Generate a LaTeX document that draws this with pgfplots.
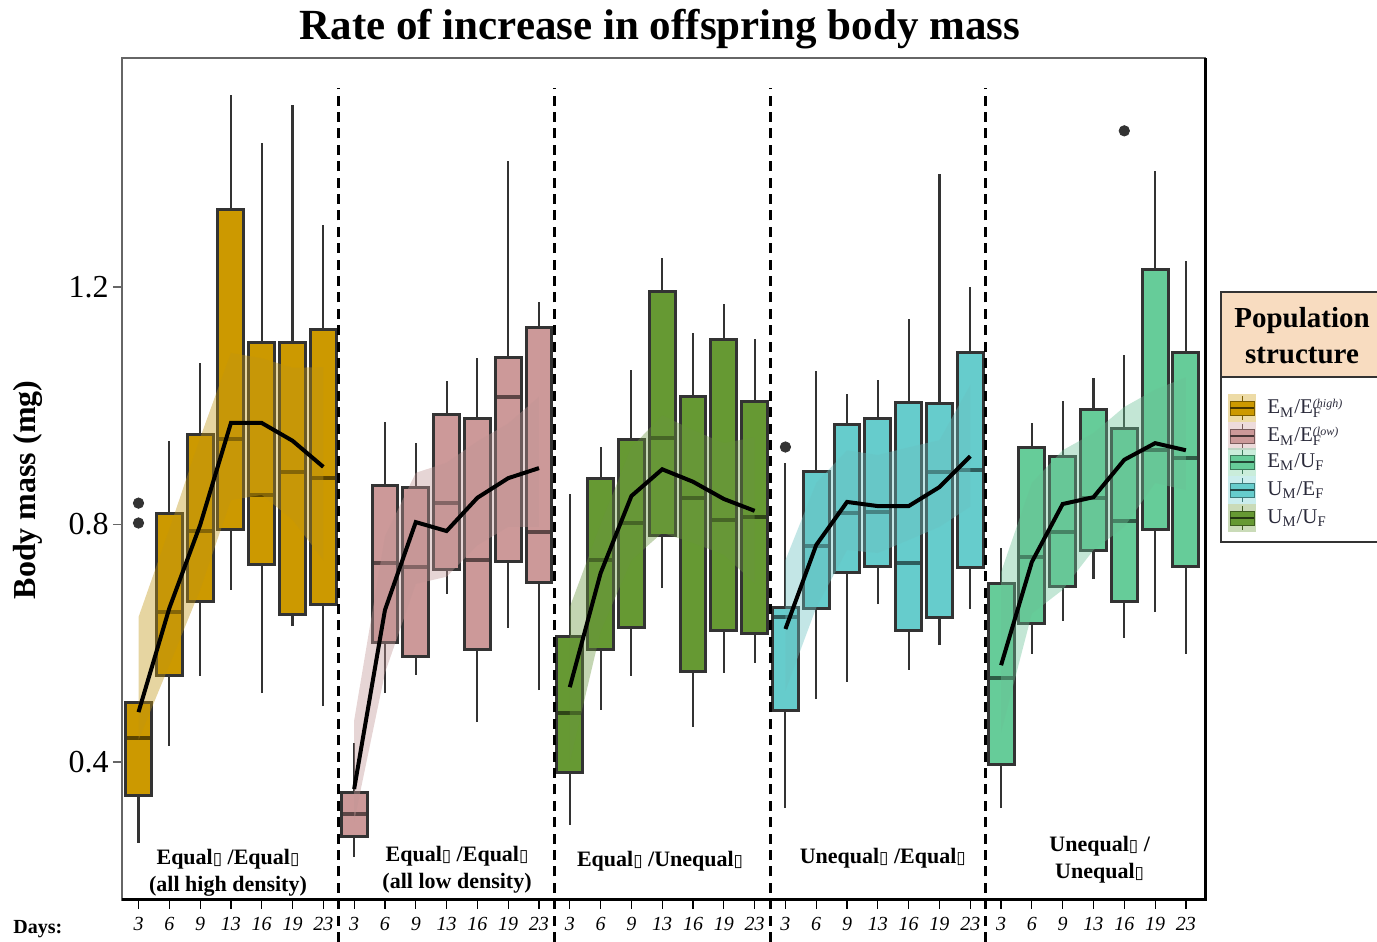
\documentclass[border=0pt]{standalone}
\usepackage{pgfplots}
\pgfplotsset{compat=1.18}
\usepackage{fontspec}
\setmainfont{Liberation Serif}
\newfontfamily\dejavu{DejaVu Sans}
\newcommand{\tofu}{{\dejavu\fontsize{8.5}{8.5}\selectfont\char"25AF}}
\newcommand{\sbsp}[2]{\rlap{\textsubscript{#1}}{\fontsize{6}{6}\selectfont\raisebox{3.4pt}{\itshape #2}}}
\definecolor{cgold}{HTML}{CC9900}
\definecolor{cpink}{HTML}{CC9999}
\definecolor{cgreen}{HTML}{669933}
\definecolor{ccyan}{HTML}{66CCCC}
\definecolor{cmint}{HTML}{66CC99}
\definecolor{boxline}{HTML}{333333}
\definecolor{peach}{HTML}{F8DCC0}
\definecolor{legtext}{HTML}{2A2A3A}
% #1 position, #2 lower whisker, #3 lower quartile, #4 median, #5 upper quartile, #6 upper whisker, #7 colour
\newcommand{\bx}[7]{%
  \addplot[draw=none, fill=#7] table[row sep=\\, x expr=#1+\thisrow{dx}, y=y] {dx y\\ -0.42 #3\\ 0.42 #3\\ 0.42 #5\\ -0.42 #5\\} -- cycle;
  \addplot[boxline, line width=1.05pt] coordinates {(#1,#5) (#1,#6)};
  \addplot[boxline, line width=1.05pt] coordinates {(#1,#2) (#1,#3)};
  \addplot[#7!45!black, line width=2pt] table[row sep=\\, x expr=#1+\thisrow{dx}, y=y] {dx y\\ -0.42 #4\\ 0.42 #4\\};
  \addplot[boxline, line width=1.5pt] table[row sep=\\, x expr=#1+\thisrow{dx}, y=y] {dx y\\ -0.42 #3\\ 0.42 #3\\ 0.42 #5\\ -0.42 #5\\} -- cycle;
}
\newcommand{\legrow}[3]{%
  \fill[#2, opacity=0.35] (11.5,#1-7) rectangle (25.5,#1+7);
  \draw[#2!60!black, line width=0.4pt] (18.5,#1+3.5) -- (18.5,#1+6.2) (18.5,#1-3.5) -- (18.5,#1-6.2);
  \draw[fill=#2, draw=#2!60!black, line width=0.4pt] (12.5,#1-3.5) rectangle (24.5,#1+3.5);
  \draw[#2!35!black, line width=1.4pt] (12.5,#1) -- (24.5,#1);
  \node[anchor=west, text=legtext, font=\fontsize{10.5}{12}\selectfont, inner sep=0pt] at (31,#1) {#3};}
\begin{document}
\begin{tikzpicture}
\begin{axis}[
  scale only axis, width=541.5pt, height=421pt,
  xmin=-0.536, xmax=34.62, ymin=0.1676, ymax=1.5857,
  clip=false,
  axis line style={draw=black!60, line width=0.6pt},
  xtick={0,...,34},
  xticklabels={3,6,9,13,16,19,23,3,6,9,13,16,19,23,3,6,9,13,16,19,23,3,6,9,13,16,19,23,3,6,9,13,16,19,23},
  ytick={0.4,0.8,1.2}, yticklabels={0.4,0.8,1.2},
  tick align=outside, major tick length=4.5pt,
  xtick pos=bottom, ytick pos=left,
  x tick style={black, line width=0.6pt},
  y tick style={black!60, line width=0.6pt},
  xticklabel style={font=\fontsize{10}{12}\selectfont\itshape, inner sep=1pt, yshift=-3pt},
  yticklabel style={font=\fontsize{16}{18}\selectfont, inner sep=2pt},
]
\coordinate (SW) at (rel axis cs:0,0);
\coordinate (NE) at (rel axis cs:1,1);
\coordinate (SE) at (rel axis cs:1,0);
% ---- group 1 (gold)
\bx{0}{0.264}{0.343}{0.440}{0.501}{0.503}{cgold}
\bx{1}{0.427}{0.545}{0.653}{0.819}{0.941}{cgold}
\bx{2}{0.545}{0.670}{0.789}{0.952}{1.072}{cgold}
\bx{3}{0.690}{0.792}{0.944}{1.330}{1.523}{cgold}
\bx{4}{0.516}{0.733}{0.850}{1.107}{1.443}{cgold}
\bx{5}{0.629}{0.649}{0.888}{1.107}{1.507}{cgold}
\bx{6}{0.494}{0.666}{0.878}{1.128}{1.304}{cgold}
\addplot[draw=none, fill=cgold!85!gray, fill opacity=0.4] coordinates {(0,0.644) (1,0.792) (2,0.946) (3,1.089) (4,1.080) (5,1.064) (6,1.065) (6,0.740) (5,0.808) (4,0.850) (3,0.841) (2,0.690) (1,0.563) (0,0.437)} -- cycle;
\addplot[only marks, mark=*, mark size=2.6pt, boxline] coordinates {(0,0.836) (0,0.8025)};
\addplot[black, line width=2pt] coordinates {(0,0.484) (1,0.659) (2,0.799) (3,0.971) (4,0.971) (5,0.941) (6,0.897)};
% ---- group 2 (pink)
\bx{7}{0.240}{0.275}{0.312}{0.348}{0.432}{cpink}
\bx{8}{0.516}{0.602}{0.735}{0.865}{0.973}{cpink}
\bx{9}{0.547}{0.577}{0.728}{0.863}{0.937}{cpink}
\bx{10}{0.683}{0.725}{0.836}{0.986}{1.042}{cpink}
\bx{11}{0.467}{0.589}{0.740}{0.978}{1.080}{cpink}
\bx{12}{0.626}{0.737}{1.015}{1.082}{1.412}{cpink}
\bx{13}{0.521}{0.703}{0.787}{1.131}{1.175}{cpink}
\addplot[draw=none, fill=cpink!85!gray, fill opacity=0.4] coordinates {(7,0.47) (8,0.78) (9,0.887) (10,0.904) (11,0.94) (12,0.97) (13,1.015) (13,0.796) (12,0.796) (11,0.765) (10,0.712) (9,0.70) (8,0.55) (7,0.30)} -- cycle;
\addplot[black, line width=2pt] coordinates {(7,0.3545) (8,0.656) (9,0.804) (10,0.789) (11,0.845) (12,0.878) (13,0.895)};
% ---- group 3 (green)
\bx{14}{0.294}{0.3815}{0.4825}{0.612}{0.851}{cgreen}
\bx{15}{0.488}{0.589}{0.740}{0.877}{0.931}{cgreen}
\bx{16}{0.545}{0.627}{0.8025}{0.944}{1.060}{cgreen}
\bx{17}{0.693}{0.781}{0.946}{1.192}{1.249}{cgreen}
\bx{18}{0.459}{0.553}{0.845}{1.015}{1.1225}{cgreen}
\bx{19}{0.550}{0.622}{0.808}{1.111}{1.171}{cgreen}
\bx{20}{0.567}{0.617}{0.813}{1.008}{1.112}{cgreen}
\addplot[draw=none, fill=cgreen!85!gray, fill opacity=0.4] coordinates {(14,0.661) (15,0.80) (16,0.93) (17,0.984) (18,0.959) (19,0.937) (20,0.947) (20,0.701) (19,0.749) (18,0.769) (17,0.786) (16,0.74) (15,0.62) (14,0.40)} -- cycle;
\addplot[black, line width=2pt] coordinates {(14,0.526) (15,0.718) (16,0.848) (17,0.893) (18,0.872) (19,0.843) (20,0.823)};
% ---- group 4 (cyan)
\bx{21}{0.3225}{0.486}{0.644}{0.661}{0.904}{ccyan}
\bx{22}{0.506}{0.659}{0.764}{0.890}{1.0585}{ccyan}
\bx{23}{0.535}{0.720}{0.819}{0.968}{1.020}{ccyan}
\bx{24}{0.666}{0.730}{0.821}{0.978}{1.043}{ccyan}
\bx{25}{0.555}{0.622}{0.735}{1.005}{1.146}{ccyan}
\bx{26}{0.597}{0.644}{0.888}{1.003}{1.390}{ccyan}
\bx{27}{0.658}{0.728}{0.892}{1.089}{1.200}{ccyan}
\addplot[draw=none, fill=ccyan!85!gray, fill opacity=0.4] coordinates {(21,0.74) (22,0.87) (23,0.925) (24,0.917) (25,0.93) (26,0.942) (27,1.035) (27,0.83) (26,0.796) (25,0.774) (24,0.752) (23,0.757) (22,0.66) (21,0.52)} -- cycle;
\addplot[only marks, mark=*, mark size=2.6pt, boxline] coordinates {(21,0.9305)};
\addplot[black, line width=2pt] coordinates {(21,0.624) (22,0.7655) (23,0.838) (24,0.831) (25,0.831) (26,0.863) (27,0.915)};
% ---- group 5 (mint)
\bx{28}{0.3225}{0.3966}{0.5415}{0.700}{0.760}{cmint}
\bx{29}{0.582}{0.634}{0.745}{0.929}{0.971}{cmint}
\bx{30}{0.6375}{0.695}{0.787}{0.914}{1.008}{cmint}
\bx{31}{0.708}{0.757}{0.845}{0.993}{1.047}{cmint}
\bx{32}{0.609}{0.6695}{0.806}{0.9625}{1.0855}{cmint}
\bx{33}{0.6526}{0.7924}{0.9255}{1.229}{1.395}{cmint}
\bx{34}{0.582}{0.730}{0.912}{1.0905}{1.244}{cmint}
\addplot[draw=none, fill=cmint!85!gray, fill opacity=0.4] coordinates {(28,0.72) (29,0.87) (30,0.925) (31,0.954) (32,0.998) (33,1.027) (34,1.048) (34,0.858) (33,0.870) (32,0.796) (31,0.757) (30,0.69) (29,0.65) (28,0.45)} -- cycle;
\addplot[only marks, mark=*, mark size=2.6pt, boxline] coordinates {(32,1.463)};
\addplot[black, line width=2pt] coordinates {(28,0.563) (29,0.737) (30,0.8345) (31,0.846) (32,0.909) (33,0.937) (34,0.925)};
% ---- separators
\addplot[black, line width=1.5pt, dash pattern=on 5pt off 3.2pt] coordinates {(6.5,0.097) (6.5,1.535)};
\addplot[black, line width=1.5pt, dash pattern=on 5pt off 3.2pt] coordinates {(13.5,0.097) (13.5,1.535)};
\addplot[black, line width=1.5pt, dash pattern=on 5pt off 3.2pt] coordinates {(20.5,0.097) (20.5,1.535)};
\addplot[black, line width=1.5pt, dash pattern=on 5pt off 3.2pt] coordinates {(27.5,0.097) (27.5,1.535)};
% ---- frame (thick bottom/right)
\draw[black, line width=1.5pt] (rel axis cs:0,0) -- (rel axis cs:1,0) -- (rel axis cs:1,1);
% ---- group labels
\begin{scope}[every node/.style={align=center, font=\bfseries\fontsize{11}{13.5}\selectfont, inner sep=0pt}]
\node at (axis cs:2.905,0.213) {Equal\tofu\ /Equal\tofu\\(all high density)};
\node at (axis cs:10.34,0.218) {Equal\tofu\ /Equal\tofu\\(all low density)};
\node at (axis cs:16.93,0.233) {Equal\tofu\ /Unequal\tofu};
\node at (axis cs:24.16,0.238) {Unequal\tofu\ /Equal\tofu};
\node at (axis cs:31.2,0.235) {Unequal\tofu\ /\\Unequal\tofu};
\end{scope}
% ---- title, y label, days
\node[anchor=base, font=\bfseries\fontsize{21.5}{24}\selectfont, inner sep=0pt] at ([yshift=9pt]rel axis cs:0.4968,1) {Rate of increase in offspring body mass};
\node[rotate=90, font=\bfseries\fontsize{16}{18}\selectfont, inner sep=0pt] at ([xshift=-47pt]rel axis cs:0,0.487) {Body mass (mg)};
\node[anchor=base west, font=\bfseries\fontsize{10}{12}\selectfont, inner sep=0pt] at ([xshift=-54.5pt,yshift=-17pt]rel axis cs:0,0) {Days:};
\end{axis}
% ---- legend
\begin{scope}[shift={(SE)}, x=1pt, y=1pt]
\fill[peach] (8,261.5) rectangle (89,304);
\draw[boxline, line width=0.8pt] (8,179) rectangle (89,304);
\draw[boxline, line width=0.8pt] (8,261.5) -- (89,261.5);
\node[align=center, font=\bfseries\fontsize{14.5}{18}\selectfont, inner sep=0pt] at (48.5,282) {Population\\structure};
\legrow{246}{cgold}{E\textsubscript{M}/E\sbsp{F}{(high)}}
\legrow{232}{cpink}{E\textsubscript{M}/E\sbsp{F}{(low)}}
\legrow{219}{cmint}{E\textsubscript{M}/U\textsubscript{F}}
\legrow{205}{ccyan}{U\textsubscript{M}/E\textsubscript{F}}
\legrow{191}{cgreen}{U\textsubscript{M}/U\textsubscript{F}}
\end{scope}
\pgfresetboundingbox
\path ([shift={(-61pt,-21pt)}]SW) rectangle ([shift={(86pt,29pt)}]NE);
\end{tikzpicture}
\end{document}
